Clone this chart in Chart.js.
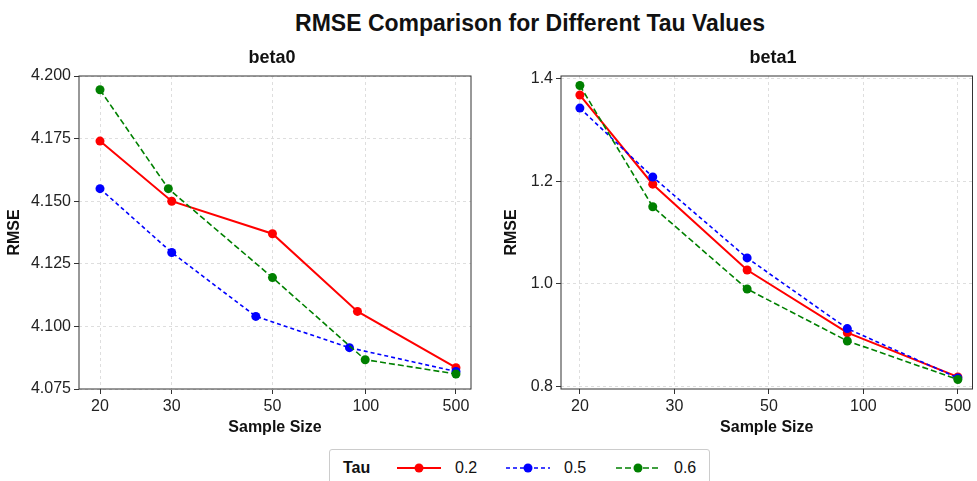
<!DOCTYPE html>
<html>
<head>
<meta charset="utf-8">
<script src="https://cdn.jsdelivr.net/npm/chart.js@4.4.1/dist/chart.umd.min.js"></script>
<style>
  body { margin: 0; background: #fff; font-family: "Liberation Sans", Arial, sans-serif; color: #111; }
  #wrap { position: relative; width: 977px; height: 481px; overflow: hidden; }
  canvas { position: absolute; top: 60px; }
  .title { position: absolute; font-weight: bold; white-space: nowrap; transform: translate(-50%, -50%); }
  #legend { position: absolute; left: 329px; top: 449px; width: 381px; height: 45px; border: 1px solid #ccc; border-radius: 3px; box-sizing: border-box; }
  #legend .item { position: absolute; top: 18px; transform: translateY(-50%); font-size: 16px; white-space: nowrap; }
  #legend svg { position: absolute; top: 12px; }
</style>
</head>
<body>
<div id="wrap">
  <canvas id="beta0" width="490" height="380" style="left:0px"></canvas>
  <canvas id="beta1" width="487" height="380" style="left:490px"></canvas>
  <div class="title" style="left:530px; top:23px; font-size:23px;">RMSE Comparison for Different Tau Values</div>
  <div class="title" style="left:272px; top:57px; font-size:18px;">beta0</div>
  <div class="title" style="left:773px; top:57px; font-size:18px;">beta1</div>
  <div id="legend"></div>
</div>
<script>
// sample sizes shown on the x axis
const sizeLabels = ["20", "30", "50", "100", "500"];
const tauLabels = ["0.2", "0.5", "0.6"];
const tauColors = ["#ff0000", "#0000ff", "#008000"];
const tauDash = [[], [4, 3], [6, 3]];

// where the tick labels sit along each x axis
const beta0TickPos = [0, 0.806, 1.938, 2.988, 4];
const beta1TickPos = [0, 1, 2, 3, 4];

// beta0 panel: x positions and RMSE for each tau
const beta0X_tau02 = [0, 0.806, 1.938, 2.893, 4];
const beta0X_tau05 = [0, 0.806, 1.751, 2.803, 4];
const beta0X_tau06 = [0, 0.768, 1.938, 2.98, 4];
const beta0_tau02 = [4.174, 4.150, 4.137, 4.106, 4.0835];
const beta0_tau05 = [4.155, 4.1295, 4.104, 4.0915, 4.082];
const beta0_tau06 = [4.1945, 4.155, 4.1195, 4.0867, 4.081];

// beta1 panel
const beta1X = [0, 0.771, 1.77, 2.83, 4];
const beta1_tau02 = [1.3675, 1.194, 1.027, 0.905, 0.819];
const beta1_tau05 = [1.342, 1.208, 1.0505, 0.913, 0.817];
const beta1_tau06 = [1.386, 1.150, 0.990, 0.889, 0.814];

const beta1YTicks = [0.8, 1.0, 1.2, 1.4];

// box around the plot area
const framePlugin = {
  id: "frame",
  beforeDatasetsDraw(chart) {
    const { ctx, chartArea: a } = chart;
    ctx.save();
    ctx.strokeStyle = "#333";
    ctx.lineWidth = 1;
    ctx.strokeRect(a.left, a.top, a.width, a.height);
    ctx.restore();
  }
};

function makePoints(xs, ys) {
  return xs.map((x, i) => ({ x: x, y: ys[i] }));
}

function makeDatasets(xsList, ysList) {
  return ysList.map((ys, i) => ({
    label: tauLabels[i],
    data: makePoints(xsList[i], ys),
    borderColor: tauColors[i],
    backgroundColor: tauColors[i],
    borderWidth: i === 0 ? 2 : 1.6,
    borderDash: tauDash[i],
    pointRadius: 4.5,
    pointBorderWidth: 0,
    pointBackgroundColor: tauColors[i],
    order: 3 - i
  }));
}

function makeChart(id, cfg) {
  const gridBase = {
    color: "#dedede",
    tickColor: "#333",
    tickLength: 5,
    tickBorderDash: [],
    lineWidth: 1
  };
  return new Chart(document.getElementById(id), {
    type: "line",
    data: { datasets: cfg.datasets },
    plugins: [framePlugin],
    options: {
      responsive: false,
      animation: false,
      devicePixelRatio: 1,
      layout: { padding: cfg.padding },
      plugins: { legend: { display: false }, tooltip: { enabled: false } },
      scales: {
        x: {
          type: "linear",
          min: cfg.xMin,
          max: cfg.xMax,
          afterBuildTicks: s => { s.ticks = cfg.tickPos.map(v => ({ value: v })); },
          afterFit: s => { s.height = 51; },
          grid: gridBase,
          border: { display: false, dash: [3, 3] },
          ticks: {
            autoSkip: false,
            maxRotation: 0,
            padding: 3,
            color: "#222",
            font: { size: 16, family: "'Liberation Sans', Arial, sans-serif" },
            callback: v => sizeLabels[cfg.tickPos.indexOf(v)]
          },
          title: {
            display: true,
            text: "Sample Size",
            color: "#111",
            padding: { top: 0, bottom: 3 },
            font: { size: 16, weight: "bold", family: "'Liberation Sans', Arial, sans-serif" }
          }
        },
        y: {
          min: cfg.yMin,
          max: cfg.yMax,
          afterBuildTicks: s => { s.ticks = cfg.yTicks.map(v => ({ value: v })); },
          afterFit: s => { s.width = cfg.yWidth; },
          grid: gridBase,
          border: { display: false, dash: [3, 3] },
          ticks: {
            padding: 3,
            color: "#222",
            font: { size: 16, family: "'Liberation Sans', Arial, sans-serif" },
            callback: v => v.toFixed(cfg.decimals)
          },
          title: {
            display: true,
            text: "RMSE",
            color: "#111",
            padding: { top: cfg.yTitlePad, bottom: 0 },
            font: { size: 16, weight: "bold", family: "'Liberation Sans', Arial, sans-serif" }
          }
        }
      }
    }
  });
}

makeChart("beta0", {
  datasets: makeDatasets([beta0X_tau02, beta0X_tau05, beta0X_tau06], [beta0_tau02, beta0_tau05, beta0_tau06]),
  tickPos: beta0TickPos,
  xMin: -0.236, xMax: 4.169,
  yMin: 4.075, yMax: 4.200,
  yTicks: [4.075, 4.100, 4.125, 4.150, 4.175, 4.200],
  decimals: 3,
  yWidth: 79,
  yTitlePad: 5,
  padding: { left: 0, right: 19, top: 16, bottom: 0 }
});

makeChart("beta1", {
  datasets: makeDatasets([beta1X, beta1X, beta1X], [beta1_tau02, beta1_tau05, beta1_tau06]),
  tickPos: beta1TickPos,
  xMin: -0.2, xMax: 4.155,
  yMin: 0.7955, yMax: 1.4045,
  yTicks: beta1YTicks,
  decimals: 1,
  yWidth: 71,
  yTitlePad: 12,
  padding: { left: 0, right: 2, top: 16, bottom: 0 }
});

// legend built as html, with little line samples
const legend = document.getElementById("legend");
let html = '<div class="item" style="left:13px; font-weight:bold;">Tau</div>';
const sampleLeft = [67, 176, 286];
tauLabels.forEach((t, i) => {
  const dash = tauDash[i].length ? ' stroke-dasharray="' + tauDash[i].join(",") + '"' : "";
  html += '<svg width="44" height="12" style="left:' + sampleLeft[i] + 'px">' +
    '<line x1="0" y1="6" x2="44" y2="6" stroke="' + tauColors[i] + '" stroke-width="' + (i === 0 ? 2 : 1.6) + '"' + dash + '/>' +
    '<circle cx="22" cy="6" r="4.5" fill="' + tauColors[i] + '"/></svg>';
  html += '<div class="item" style="left:' + (sampleLeft[i] + 58) + 'px">' + t + '</div>';
});
legend.innerHTML = html;
</script>
</body>
</html>
